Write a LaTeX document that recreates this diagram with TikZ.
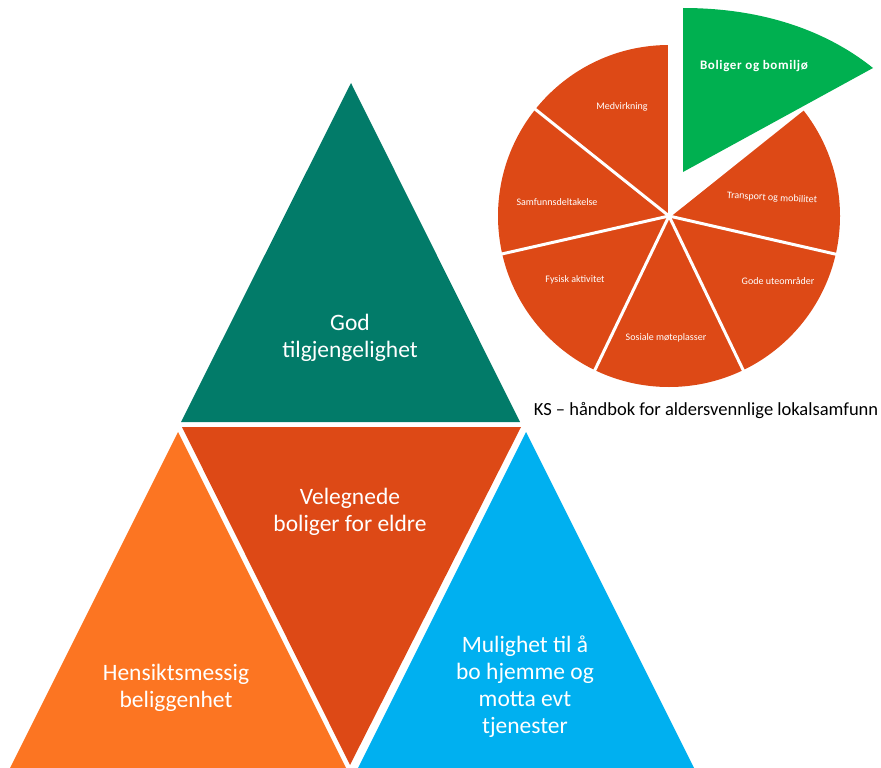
\documentclass[tikz,border=0pt]{standalone}
\usepackage{fontspec}
\setmainfont{Carlito}
\usetikzlibrary{calc}

\definecolor{tealgreen}{RGB}{2,123,105}
\definecolor{rustred}{RGB}{221,73,22}
\definecolor{brightorange}{RGB}{252,117,34}
\definecolor{skyblue}{RGB}{0,176,240}
\definecolor{leafgreen}{RGB}{0,176,80}

\begin{document}
\begin{tikzpicture}[x=1pt, y=-1pt,
	bigtext/.style={text=white, align=center, font=\fontsize{23.5}{27}\selectfont},
	pietext/.style={text=white, font=\fontsize{10}{12}\selectfont}]
	\useasboundingbox (0,0) rectangle (881,768);
	\clip (0,0) rectangle (881,768);
	% the four triangles
	\fill [tealgreen] (351,83) -- (520,422) -- (181,422) -- cycle;
	\fill [rustred] (182,427) -- (521,427) -- (350,765) -- cycle;
	\fill [brightorange] (178,432) -- (352,780) -- (4,780) -- cycle;
	\fill [skyblue] (526,432) -- (700,780) -- (352,780) -- cycle;
	\node [bigtext] (god) at (350,338) {God\\tilgjengelighet};
	\node [bigtext] (velegnede) at (350,512) {Velegnede\\boliger for eldre};
	\node [bigtext] (hensikt) at (176,688) {Hensiktsmessig\\beliggenhet};
	\node [bigtext] (mulighet) at (525,687) {Mulighet til å\\bo hjemme og\\motta evt\\tjenester};
	% pie with one slice pulled out
	\begin{scope}[shift={(669,216)}, yscale=-1]
		\fill [rustred] (0,0) -- (90:171) arc [start angle=90, end angle=398.6, radius=171] -- cycle;
		\foreach \a in {90,141.4,192.8,244.3,295.7,347.1,38.6}
			\draw [white, line width=3pt] (0,0) -- (\a:174);
	\end{scope}
	\fill [leafgreen] (683,172) -- (683,8) .. controls (770,8) and (832,35) .. (873,68) -- cycle;
	\node [pietext] (medvirkning) at (622,107) {Medvirkning};
	\node [pietext] (samfunn) at (557,202) {Samfunnsdeltakelse};
	\node [pietext] (fysisk) at (575,280) {Fysisk aktivitet};
	\node [pietext] (sosiale) at (666,338) {Sosiale møteplasser};
	\node [pietext] (gode) at (778,281) {Gode uteområder};
	\node [pietext, rotate=-3] (transport) at (772,198) {Transport og mobilitet};
	\node [pietext, font=\fontsize{13}{15}\selectfont\bfseries\addfontfeature{LetterSpace=5}] (boliger) at (754,66) {Boliger og bomiljø};
	\node [font=\fontsize{18.5}{22}\selectfont] (kilde) at (706,411) {KS – håndbok for aldersvennlige lokalsamfunn};
\end{tikzpicture}
\end{document}
